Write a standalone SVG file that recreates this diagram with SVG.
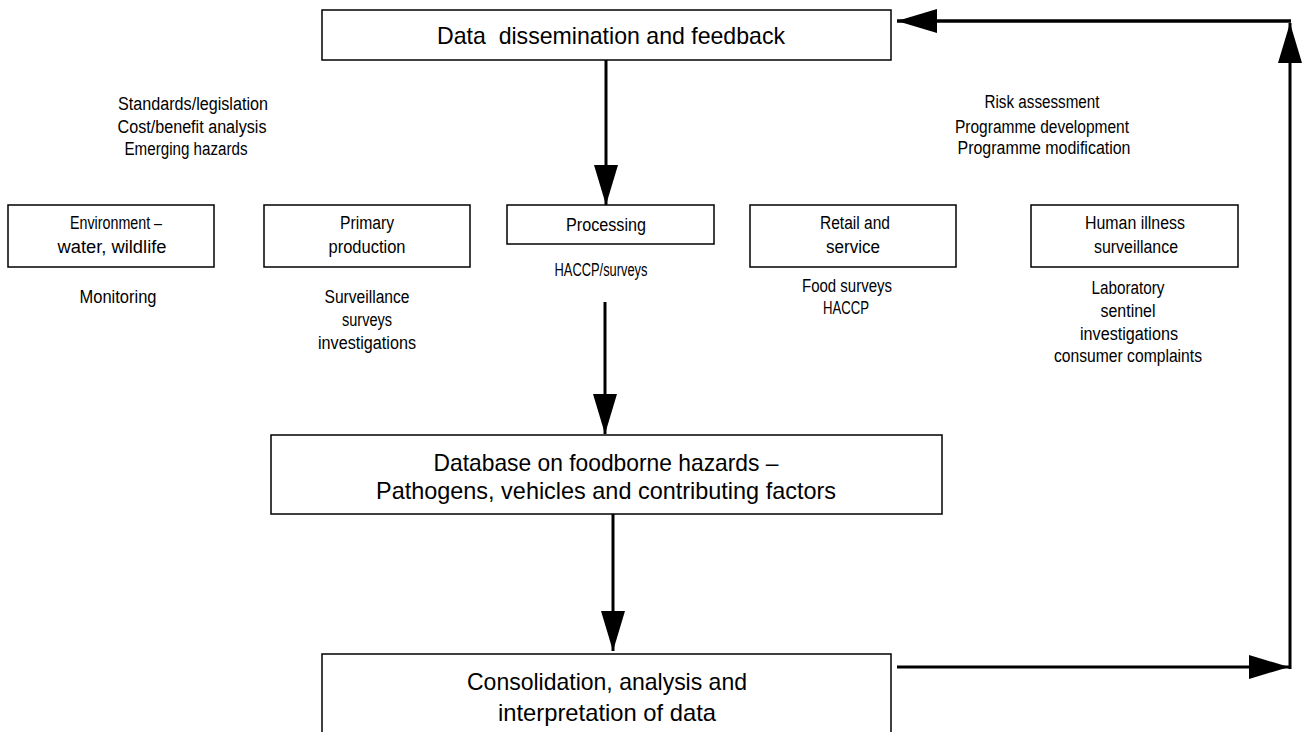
<svg xmlns="http://www.w3.org/2000/svg" width="1302" height="732" viewBox="0 0 1302 732">
<style>
  .box { fill: #fff; stroke: #000; stroke-width: 1.5; }
  .t { font-family: "Liberation Sans", Arial, sans-serif; font-size: 18px; fill: #000; text-anchor: middle; }
  .big { font-size: 24px; }
  .conn { stroke: #000; stroke-width: 3; fill: none; marker-end: url(#ah); }
</style>
<defs>
  <marker id="ah" markerUnits="userSpaceOnUse" markerWidth="40" markerHeight="24" refX="40" refY="12" orient="auto">
    <path d="M0,0 L40,12 L0,24 Z" fill="#000"/>
  </marker>
</defs>
<rect width="1302" height="732" fill="#fff"/>

<g id="connectors">
  <path class="conn" d="M606,60 V205"/>
  <path class="conn" d="M605,302 V434"/>
  <path class="conn" d="M613,514 V651"/>
  <path class="conn" d="M897,667 H1289"/>
  <path class="conn" d="M1290,669 V23"/>
  <path class="conn" d="M1291,21 H897" style="stroke-width:3.5"/>
</g>

<g id="dissemination">
  <rect class="box" x="322" y="10" width="569" height="50"/>
  <text class="t big" x="611" y="44" style="white-space:pre" textLength="348" lengthAdjust="spacingAndGlyphs">Data  dissemination and feedback</text>
</g>

<g id="left-notes">
  <text class="t" x="193" y="110" textLength="150" lengthAdjust="spacingAndGlyphs">Standards/legislation</text>
  <text class="t" x="192" y="133" textLength="149" lengthAdjust="spacingAndGlyphs">Cost/benefit analysis</text>
  <text class="t" x="186" y="155" textLength="123" lengthAdjust="spacingAndGlyphs">Emerging hazards</text>
</g>

<g id="right-notes">
  <text class="t" x="1042" y="108" textLength="115" lengthAdjust="spacingAndGlyphs">Risk assessment</text>
  <text class="t" x="1042" y="133" textLength="174" lengthAdjust="spacingAndGlyphs">Programme development</text>
  <text class="t" x="1044" y="154" textLength="173" lengthAdjust="spacingAndGlyphs">Programme modification</text>
</g>

<g id="environment">
  <rect class="box" x="8" y="205" width="206" height="62"/>
  <text class="t" x="116" y="229" textLength="92" lengthAdjust="spacingAndGlyphs">Environment –</text>
  <text class="t" x="112" y="253" textLength="109" lengthAdjust="spacingAndGlyphs">water, wildlife</text>
  <text class="t" x="118" y="303" textLength="77" lengthAdjust="spacingAndGlyphs">Monitoring</text>
</g>

<g id="primary">
  <rect class="box" x="264" y="205" width="206" height="62"/>
  <text class="t" x="367" y="229" textLength="54" lengthAdjust="spacingAndGlyphs">Primary</text>
  <text class="t" x="367" y="253" textLength="77" lengthAdjust="spacingAndGlyphs">production</text>
  <text class="t" x="367" y="303" textLength="85" lengthAdjust="spacingAndGlyphs">Surveillance</text>
  <text class="t" x="367" y="326" textLength="50" lengthAdjust="spacingAndGlyphs">surveys</text>
  <text class="t" x="367" y="349" textLength="98" lengthAdjust="spacingAndGlyphs">investigations</text>
</g>

<g id="processing">
  <rect class="box" x="507" y="205" width="207" height="39"/>
  <text class="t" x="606" y="231" textLength="80" lengthAdjust="spacingAndGlyphs">Processing</text>
  <text class="t" x="601" y="276" textLength="93" lengthAdjust="spacingAndGlyphs">HACCP/surveys</text>
</g>

<g id="retail">
  <rect class="box" x="750" y="205" width="206" height="62"/>
  <text class="t" x="855" y="229" textLength="70" lengthAdjust="spacingAndGlyphs">Retail and</text>
  <text class="t" x="853" y="253" textLength="54" lengthAdjust="spacingAndGlyphs">service</text>
  <text class="t" x="847" y="292" textLength="90" lengthAdjust="spacingAndGlyphs">Food surveys</text>
  <text class="t" x="846" y="314" textLength="46" lengthAdjust="spacingAndGlyphs">HACCP</text>
</g>

<g id="human">
  <rect class="box" x="1031" y="205" width="207" height="62"/>
  <text class="t" x="1135" y="229" textLength="100" lengthAdjust="spacingAndGlyphs">Human illness</text>
  <text class="t" x="1136" y="253" textLength="84" lengthAdjust="spacingAndGlyphs">surveillance</text>
  <text class="t" x="1128" y="294" textLength="73" lengthAdjust="spacingAndGlyphs">Laboratory</text>
  <text class="t" x="1128" y="317" textLength="55" lengthAdjust="spacingAndGlyphs">sentinel</text>
  <text class="t" x="1129" y="340" textLength="98" lengthAdjust="spacingAndGlyphs">investigations</text>
  <text class="t" x="1128" y="362" textLength="148" lengthAdjust="spacingAndGlyphs">consumer complaints</text>
</g>

<g id="database">
  <rect class="box" x="271" y="435" width="671" height="79"/>
  <text class="t big" x="606" y="471" textLength="345" lengthAdjust="spacingAndGlyphs">Database on foodborne hazards –</text>
  <text class="t big" x="606" y="499" textLength="460" lengthAdjust="spacingAndGlyphs">Pathogens, vehicles and contributing factors</text>
</g>

<g id="consolidation">
  <rect class="box" x="322" y="654" width="569" height="90"/>
  <text class="t big" x="607" y="690" textLength="280" lengthAdjust="spacingAndGlyphs">Consolidation, analysis and</text>
  <text class="t big" x="607" y="721" textLength="218" lengthAdjust="spacingAndGlyphs">interpretation of data</text>
</g>
</svg>
